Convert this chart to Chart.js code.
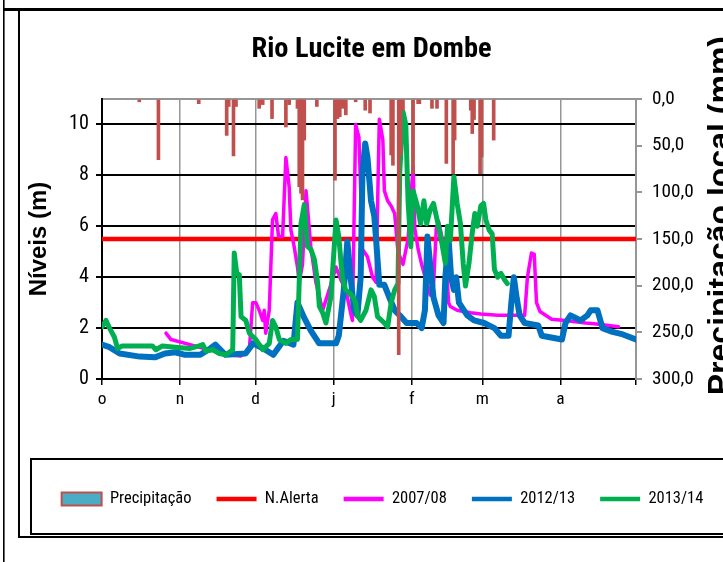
<!DOCTYPE html>
<html lang="pt">
<head>
<meta charset="UTF-8">
<title>Rio Lucite em Dombe</title>
<script src="https://cdn.jsdelivr.net/npm/chart.js"></script>
<style>
  html, body { margin: 0; padding: 0; background: #fff; overflow: hidden; }
  canvas { display: block; }
</style>
</head>
<body>
<canvas id="chart" width="723" height="562"></canvas>
<script>
// --- values (x = day counted from 1 October) ---
const monthStarts = [0, 31, 61, 92, 123, 151, 182, 212];
const monthLabels = ['o', 'n', 'd', 'j', 'f', 'm', 'a', ''];
const levelTicks = [0, 2, 4, 6, 8, 10];
const rainTicks = [0, 50, 100, 150, 200, 250, 300];
const alertLevel = 5.5;

// daily rain (mm), drawn hanging from the top on the right axis
const rain = [[14.8,3],[22.4,65],[38.4,5],[49.5,39],[50.3,8],[52.2,61],[53.2,8],[62.4,10],[63.8,6],
  [67.5,21],[73,30],[74.3,6],[77.6,10],[78.3,94],[79,101],[79.6,108],[80.3,44],[85.3,8],[92.5,87],
  [93.5,21],[94.4,19],[95.5,10],[96.8,17],[100.7,3],[104.5,12],[106.4,15],[114.8,60],[115.5,71],
  [117.8,274],[118.5,60],[119.5,12],[123.5,80],[125.5,5],[126,5],[131,10],[133,10],[136.7,69],
  [139.4,80],[140,44],[146.4,12],[147,37],[147.7,22],[150.1,80],[150.7,62],[155.5,44]];

const level0708 = [[25.4,1.8],[27.4,1.55],[38.6,1.25],[45,1.1],[50,0.95],[55,0.9],[58.5,1.15],[59.8,3.0],
  [61.1,3.0],[62.4,2.7],[63.8,2.3],[64.4,2.7],[65,1.8],[66.4,2.7],[67.7,6.25],[69,6.5],[70.1,5.6],
  [71.7,5.6],[73,8.7],[74.3,7.55],[75,5.85],[76.3,5.2],[77.6,4.4],[78.3,3.8],[79.6,4.5],[81,7.4],
  [82.9,5.2],[84.9,3.8],[87.6,2.7],[90.2,3.5],[92.9,4.4],[94.8,3.9],[96.8,3.5],[98.7,2.6],[99.4,2.3],
  [100.7,10.0],[102,9.5],[102.7,7.4],[103.4,5.1],[105.4,4.8],[107.4,4.0],[108.8,3.8],[110.1,10.2],
  [111.5,9.4],[112.1,7.4],[113.4,7.0],[114.8,6.8],[116.2,6.5],[117.5,5.0],[119.5,4.5],[121.5,5.5],
  [123.5,8.35],[124.2,5.9],[125.5,5.1],[126.9,4.5],[128.9,3.8],[130.3,3.3],[131.6,3.65],[132.7,5.9],
  [133.6,6.2],[134.9,5.6],[136.3,5.2],[137.6,3.0],[138.3,2.85],[141,2.7],[143.6,2.65],[146.4,2.6],
  [150.4,2.55],[157.1,2.5],[162.5,2.5],[167.8,2.5],[168.9,4.0],[170.5,4.95],[171.6,4.9],[172.5,3.0],
  [173.9,2.65],[178.5,2.35],[183.9,2.3],[192,2.2],[197.4,2.15],[205,2.05]];

const level1213 = [[0,1.35],[3,1.25],[7,1.0],[15,0.88],[21,0.85],[25,1.0],[29,1.05],[33,0.95],[39,0.95],
  [43,1.2],[45,1.35],[49,0.95],[57,1.0],[60,1.4],[64,1.2],[68,0.95],[72,1.5],[76,1.35],[77.6,3.0],
  [80.3,2.4],[82.9,1.9],[86.2,1.4],[92.9,1.4],[94,1.7],[96,3.5],[97.4,5.4],[98.7,4.0],[100.1,2.7],
  [101.4,2.5],[102.7,4.0],[103.4,8.1],[104.5,9.25],[105.4,8.7],[106.8,7.0],[108.1,6.4],[108.8,5.5],
  [110.1,3.7],[112.1,3.7],[114.1,3.2],[116.2,2.7],[118.2,2.5],[120.9,2.2],[124.9,2.2],[126.9,2.0],
  [128.2,2.7],[129.2,5.6],[130.3,4.5],[131.6,3.2],[133.6,2.5],[135.6,2.2],[136.3,4.0],[137.6,5.5],
  [138.6,4.0],[139.7,3.5],[140.6,4.0],[141.7,3.0],[145,2.5],[147.7,2.3],[151.7,2.2],[155.8,2.0],
  [158.4,1.7],[161.4,1.7],[162.5,3.0],[163.5,4.0],[164.6,3.2],[165.8,2.5],[167.8,2.2],[173.2,2.1],
  [174.6,1.7],[182.6,1.55],[184,2.2],[186,2.5],[190,2.3],[192.7,2.5],[194,2.7],[196.7,2.7],[198.7,2.0],
  [202.7,1.85],[206.8,1.75],[212,1.55]];

const level1314 = [[0,2.05],[1.6,2.3],[3,2.0],[4.9,1.65],[6.2,1.2],[8,1.3],[15,1.3],[20,1.3],[21.4,1.15],
  [24,1.3],[29,1.25],[35,1.2],[38.6,1.3],[40,1.35],[41.3,1.1],[44,1.15],[46.6,1.0],[49.2,0.95],
  [51.9,1.15],[52.5,4.95],[53.5,4.15],[54.5,4.1],[55.2,2.45],[57.1,2.3],[58.5,1.8],[61.1,1.55],
  [63.8,1.15],[66.4,1.4],[67.7,2.3],[69,2.05],[70.4,1.55],[73,1.4],[75,1.55],[77.6,1.55],[79,6.1],
  [80.3,6.85],[81.6,5.2],[82.9,5.1],[84.3,4.7],[85.6,3.8],[86.3,2.85],[87.6,2.6],[88.9,2.2],[90.9,3.25],
  [92.9,6.25],[94,5.6],[95.4,4.0],[96.7,3.5],[98,3.4],[99.4,3.25],[100.7,3.0],[101.4,2.5],[102.7,2.3],
  [104.8,2.7],[106.8,3.5],[108.1,3.25],[109.4,2.45],[112.1,2.2],[113.4,2.05],[114.8,3.0],[116.2,3.5],
  [117.5,3.75],[118.2,8.1],[119.5,10.5],[120.6,10.0],[121.5,7.0],[122.6,5.2],[123.5,7.4],[125.2,6.8],
  [126.5,6.1],[127.8,7.0],[128.9,6.1],[130.3,6.65],[131.6,6.9],[132.7,6.4],[133.6,6.0],[134.9,5.35],
  [136.3,4.55],[137.2,6.0],[138.3,5.45],[139.7,7.95],[141,6.9],[142.3,6.1],[143.4,4.55],[144.3,3.65],
  [145.7,4.55],[147,5.75],[148,6.5],[149,6.0],[150.4,6.8],[151.5,6.9],[152.4,6.25],[153.7,5.85],
  [154.9,5.7],[155.8,4.3],[157.1,4.0],[158.4,4.15],[159.8,3.9],[160.9,3.75]];

// --- fonts: the original uses a narrow face; pick one that exists, else shrink a normal one ---
const SANS = "'Liberation Sans', Arial, sans-serif";
const probe = document.createElement('canvas').getContext('2d');
function widthOf(font) { probe.font = font; return probe.measureText('Precipitação 2012/13 Rio Lucite').width; }
const baseW = widthOf("40px 'Liberation Sans'");
let narrow = { family: SANS, stretch: '', k: 0.82 };
const namedNarrow = ['Liberation Sans Narrow', 'Arial Narrow', 'Roboto Condensed', 'DejaVu Sans Condensed',
  'Open Sans Condensed', 'Noto Sans Condensed'];
const found = namedNarrow.find(f => widthOf(`40px '${f}', monospace`) !== widthOf('40px monospace'));
if (found) {
  narrow = { family: `'${found}', sans-serif`, stretch: '', k: 0.82 * baseW / widthOf(`40px '${found}'`) };
} else {
  const stretchy = ['Noto Sans', 'Open Sans', 'Roboto', 'DejaVu Sans', 'Liberation Sans']
    .find(f => widthOf(`condensed 40px '${f}'`) < 0.92 * widthOf(`40px '${f}'`));
  if (stretchy) {
    narrow = { family: `'${stretchy}', sans-serif`, stretch: 'condensed ',
      k: 0.82 * baseW / widthOf(`condensed 40px '${stretchy}'`) };
  }
}
narrow.k = Math.min(1.15, Math.max(0.78, narrow.k));
const nfont = (size, weight) => ({ family: narrow.family, size: size * narrow.k,
  weight: narrow.stretch + (weight || 'normal') });

// --- layout numbers that keep the plot box where it is in the picture ---
const titleSize = 31 * narrow.k;
const titlePadTop = 50 - 20 - 0.6 * titleSize;
const titlePadBottom = 99 - 20 - titlePadTop - 1.2 * titleSize;
const legendSize = 18 * narrow.k;
const legendPad = 25;
const legendTop = 499 - legendPad - legendSize / 2;
const xAxisHeight = legendTop - 379;
const bottomPad = 562 - (legendTop + legendSize + legendPad + 10);

const GREY = '#969696';
const toXY = pts => pts.map(p => ({ x: p[0], y: p[1] }));

function lineSet(label, pts, color, width, order) {
  return {
    type: 'line', label, data: toXY(pts), yAxisID: 'y', order,
    borderColor: color, backgroundColor: color, borderWidth: width,
    pointRadius: 0, pointBorderColor: color, pointBackgroundColor: color,
    borderJoinStyle: 'round', borderCapStyle: 'round', tension: 0, fill: false
  };
}

// frames of the page and the box round the legend
const framePlugin = {
  id: 'frames',
  beforeDraw(chart) {
    const c = chart.ctx;
    c.save();
    c.fillStyle = '#fff';
    c.fillRect(0, 0, chart.width, chart.height);
    c.fillStyle = '#000';
    c.fillRect(3, 0, 1.6, chart.height);
    c.fillRect(3, 8, chart.width, 3);
    c.fillRect(18, 11, 2, 527);
    c.fillRect(18, 536, chart.width, 2);
    c.fillRect(30, 458, chart.width, 2);
    c.fillRect(30, 458, 2, 77);
    c.fillRect(30, 533, chart.width, 2);
    c.restore();
  }
};

// right axis title reads bottom to top and runs off the edge
const rightTitlePlugin = {
  id: 'rightTitle',
  afterDraw(chart) {
    const c = chart.ctx;
    c.save();
    c.translate(730, 36);
    c.rotate(-Math.PI / 2);
    c.font = 'bold 32px ' + SANS;
    c.fillStyle = '#000';
    c.textAlign = 'right';
    c.textBaseline = 'alphabetic';
    c.fillText('Precipitação local (mm)', 0, 0);
    c.restore();
  }
};

// the legend row sits a little right of the centre
const legendShift = {
  id: 'legendShift',
  afterLayout(chart) { chart.legend.left += 11; chart.legend.right += 11; }
};

const config = {
  type: 'line',
  data: {
    datasets: [
      {
        type: 'bar', label: 'Precipitação', data: toXY(rain), yAxisID: 'y1', order: 0,
        backgroundColor: '#C0504D', borderColor: '#C0504D', borderWidth: 0,
        barThickness: 3
      },
      lineSet('N.Alerta', [[0, alertLevel], [212, alertLevel]], '#FF0000', 4.5, 4),
      lineSet('2007/08', level0708, '#FF00FF', 3.5, 3),
      lineSet('2012/13', level1213, '#0070C0', 6, 2),
      lineSet('2013/14', level1314, '#00B050', 5, 1)
    ]
  },
  options: {
    responsive: false,
    animation: false,
    layout: { padding: { left: 20, right: 0, top: 20, bottom: bottomPad } },
    plugins: {
      title: {
        display: true,
        text: 'Rio Lucite em Dombe',
        color: '#000',
        font: nfont(31, 'bold'),
        padding: { top: titlePadTop, bottom: titlePadBottom }
      },
      legend: {
        position: 'bottom',
        labels: {
          color: '#000',
          font: nfont(18),
          usePointStyle: true,
          pointStyleWidth: 40,
          boxHeight: 13,
          padding: legendPad,
          sort: (a, b) => a.datasetIndex - b.datasetIndex,
          generateLabels(chart) {
            const items = Chart.defaults.plugins.legend.labels.generateLabels(chart);
            items.forEach(it => {
              if (it.datasetIndex === 0) {
                it.pointStyle = 'rect';
                it.fillStyle = '#4BACC6';
                it.strokeStyle = '#C0504D';
                it.lineWidth = 2;
              } else {
                it.pointStyle = 'line';
                it.lineWidth = 4.5;
              }
            });
            return items;
          }
        }
      },
      tooltip: { enabled: false }
    },
    scales: {
      x: {
        type: 'linear', position: 'bottom', min: 0, max: 212, offset: false,
        afterBuildTicks: s => { s.ticks = monthStarts.map(v => ({ value: v })); },
        afterFit: s => { s.height = xAxisHeight; },
        ticks: {
          autoSkip: false, maxRotation: 0, padding: 4, color: '#000',
          font: nfont(19),
          callback: v => monthLabels[monthStarts.indexOf(v)]
        },
        grid: { offset: false, color: GREY, lineWidth: 1.5, tickLength: 6, tickColor: '#000' },
        border: { color: '#000', width: 2 }
      },
      y: {
        position: 'left', min: 0, max: 11,
        afterBuildTicks: s => { s.ticks = levelTicks.map(v => ({ value: v })); },
        afterFit: s => { s.width = 82; },
        ticks: { padding: 7, color: '#000', font: nfont(22) },
        grid: { color: '#000', lineWidth: 2, tickLength: 6, tickColor: '#000' },
        border: { color: '#000', width: 2 },
        title: {
          display: true, text: 'Níveis (m)', color: '#000',
          font: { family: SANS, size: 24, weight: 'bold' },
          padding: { top: 5 }
        }
      },
      y1: {
        position: 'right', min: 0, max: 300, reverse: true,
        afterBuildTicks: s => { s.ticks = rainTicks.map(v => ({ value: v })); },
        afterFit: s => { s.width = 723 - 636; },
        ticks: {
          padding: 10, color: '#000', font: nfont(21),
          callback: v => v.toFixed(1).replace('.', ',')
        },
        grid: {
          lineWidth: 2, tickLength: 6, tickColor: GREY,
          color: c => (c.tick && c.tick.value === 0 ? GREY : 'rgba(0,0,0,0)')
        },
        border: { color: GREY, width: 2 }
      }
    }
  },
  plugins: [framePlugin, rightTitlePlugin, legendShift]
};

new Chart(document.getElementById('chart').getContext('2d'), config);
</script>
</body>
</html>
